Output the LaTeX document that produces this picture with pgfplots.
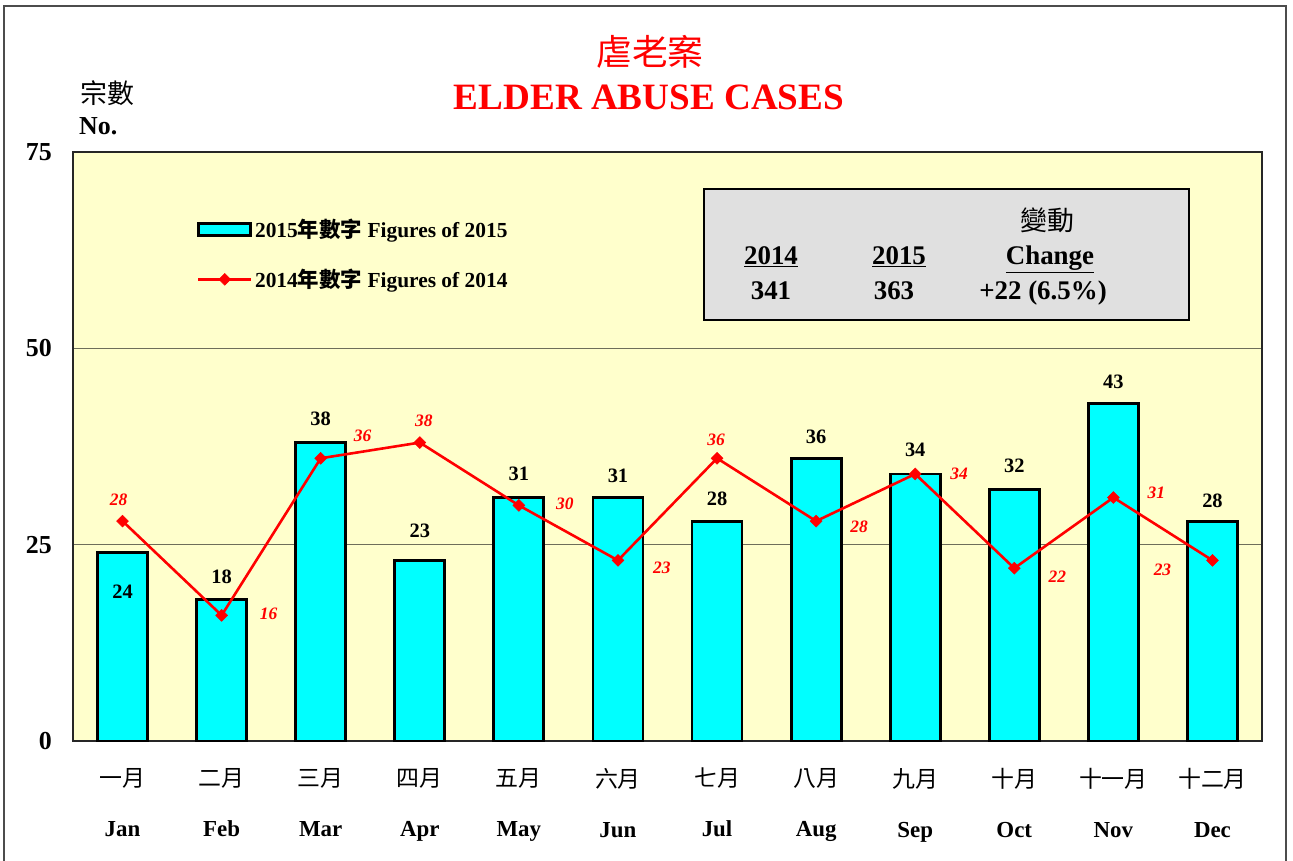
\documentclass[border=0pt]{standalone}
\usepackage{pgfplots}
\pgfplotsset{compat=1.18}
\usepackage{pgfplotstable}
\usepackage{fontspec}
\setmainfont{Liberation Serif}
\newfontfamily\cjk{Noto Sans CJK TC}
\definecolor{bgy}{HTML}{FFFFCC}
\definecolor{barc}{HTML}{00FFFF}
\definecolor{boxg}{HTML}{E0E0E0}
\definecolor{gridc}{RGB}{110,110,90}

\pgfplotsset{
  linelegend/.style={legend image code/.code={\draw[mark repeat=2, mark phase=2, ##1] plot coordinates {(0bp,0bp) (26.5bp,0bp) (53bp,0bp)};}},
  barlegend/.style={legend image code/.code={\draw[fill=barc,draw=black,line width=2.8bp] (0bp,-6bp) rectangle (52bp,6bp);}},
}

\pgfplotstableread{
x y15 y14 d15 dx14 dy14
0 24 28 -45.5 -4 16
1 18 16 16.6 47 -4.6
2 38 36 16.6 42 16.3
3 23 38 22.4 4 15.6
4 31 30 16.6 46 -4.6
5 31 23 14.6 44 -13.6
6 28 36 15.1 -1 12.3
7 36 28 14.3 43 -10.9
8 34 34 17 44 -6
9 32 22 16.7 43 -13.8
10 43 31 14.3 43 -1.4
11 28 23 13.1 -50 -15.6
}\datatable

\begin{document}
\begin{tikzpicture}[x=1bp,y=1bp]
\useasboundingbox (0,0) rectangle (1293,861);
\fill[white] (0,0) rectangle (1293,861);
\draw[black!70, line width=1.5bp] (4,-5) -- (4,855) -- (1286,855) -- (1286,-5);
\begin{axis}[
  at={(73bp,120bp)}, anchor=south west,
  scale only axis, width=1189bp, height=589bp,
  xmin=-0.5, xmax=11.5, ymin=0, ymax=75,
  axis background/.style={fill=bgy},
  axis line style={black!85, line width=1.2bp},
  ytick={0,25,50,75},
  ymajorgrids, grid style={gridc, line width=0.9bp},
  xtick={0,...,11},
  xticklabels={
    {{\cjk\mdseries 一月}\\Jan},
    {{\cjk\mdseries 二月}\\Feb},
    {{\cjk\mdseries 三月}\\Mar},
    {{\cjk\mdseries 四月}\\Apr},
    {{\cjk\mdseries 五月}\\May},
    {{\cjk\mdseries 六月}\\Jun},
    {{\cjk\mdseries 七月}\\Jul},
    {{\cjk\mdseries 八月}\\Aug},
    {{\cjk\mdseries 九月}\\Sep},
    {{\cjk\mdseries 十月}\\Oct},
    {{\cjk\mdseries 十一月}\\Nov},
    {{\cjk\mdseries 十二月}\\Dec}},
  major tick length=0pt,
  /pgf/number format/assume math mode=true,
  yticklabel style={font=\fontsize{26}{26}\selectfont\bfseries, anchor=east, inner sep=0pt, xshift=-21bp},
  xticklabel style={align=center, font=\fontsize{23}{50}\selectfont\bfseries, anchor=north, inner sep=0pt, yshift=-27bp},
  legend cell align=left,
  legend style={at={(0.104,0.886)}, anchor=north west, draw=none, fill=none, inner sep=0pt,
    row sep=30bp, column sep=2.5bp, font=\fontsize{21.5}{21.5}\selectfont\bfseries, nodes={inner sep=0pt}},
  clip=false,
]
\addplot[ybar, bar width=0.505, bar shift=0pt, fill=barc, draw=black, line width=2.8bp,
  point meta=y, nodes near coords,
  visualization depends on={\thisrow{d15} \as \dlab},
  every node near coord/.append style={anchor=base, yshift=\dlab bp,
    font=\fontsize{20.5}{20.5}\selectfont\bfseries, text=black, draw=none, fill=none, inner sep=0pt},
  barlegend
] table[x=x, y=y15] {\datatable};
\addlegendentry{2015{\cjk 年數字} Figures of 2015}
\addplot[red, line width=2.6bp, mark=square*, mark size=4.2bp, mark options={fill=red, rotate=45, line width=0.5bp},
  point meta=y, nodes near coords,
  visualization depends on={\thisrow{dx14} \as \dxl},
  visualization depends on={\thisrow{dy14} \as \dyl},
  every node near coord/.append style={anchor=base, xshift=\dxl bp, yshift=\dyl bp,
    font=\fontsize{17.5}{17.5}\selectfont\bfseries\itshape, text=red, inner sep=0pt},
  linelegend
] table[x=x, y=y14] {\datatable};
\addlegendentry{2014{\cjk 年數字} Figures of 2014}
\end{axis}
% titles
\node[anchor=base, text=red, font=\fontsize{36}{36}\selectfont\cjk] at (650,795) {虐老案};
\node[anchor=base, text=red, font=\fontsize{37.3}{37.3}\selectfont\bfseries] at (649,751) {ELDER ABUSE CASES};
\node[anchor=base west, inner sep=0pt, font=\fontsize{27}{27}\selectfont\cjk] at (80,757) {宗數};
\node[anchor=base west, inner sep=0pt, font=\fontsize{26}{26}\selectfont\bfseries] at (79,726) {No.};
% summary box
\draw[fill=boxg, draw=black, line width=1.5bp] (704,672) rectangle (1189,541);
\node[anchor=base, font=\fontsize{27}{27}\selectfont\cjk] at (1047,630) {變動};
\node[anchor=base, font=\fontsize{27}{27}\selectfont\bfseries] at (771,596) {\underline{2014}};
\node[anchor=base, font=\fontsize{27}{27}\selectfont\bfseries] at (899,596) {\underline{2015}};
\node[anchor=base, font=\fontsize{27}{27}\selectfont\bfseries] at (1050,596) {\underline{Change}};
\node[anchor=base, font=\fontsize{27}{27}\selectfont\bfseries] at (771,561) {341};
\node[anchor=base, font=\fontsize{27}{27}\selectfont\bfseries] at (894,561) {363};
\node[anchor=base, font=\fontsize{27}{27}\selectfont\bfseries] at (1043,561) {+22 (6.5\%)};
\end{tikzpicture}
\end{document}
